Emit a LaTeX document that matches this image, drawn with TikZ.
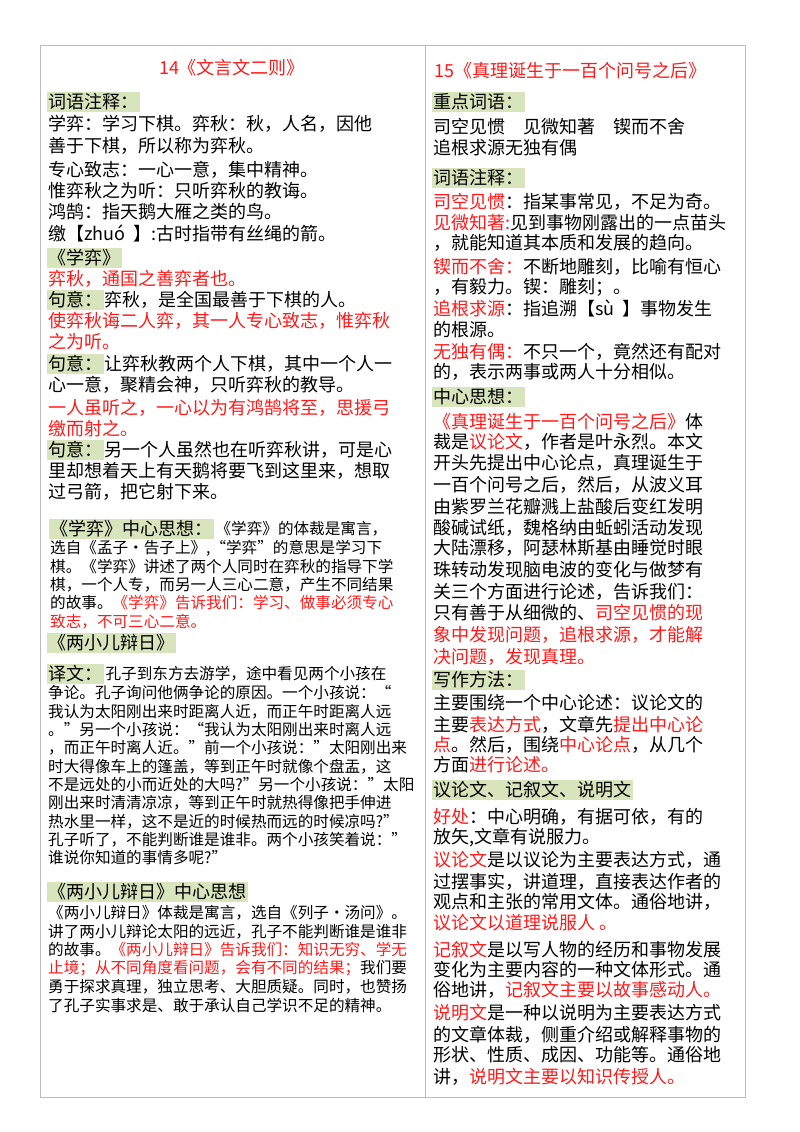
\documentclass[tikz,border=0pt]{standalone}
\usepackage{fontspec}
\setmainfont{Noto Sans CJK SC}
\usetikzlibrary{positioning}
\definecolor{kred}{HTML}{FF1A1A}
\definecolor{hlgreen}{HTML}{D7E4BC}
\definecolor{frame}{HTML}{BBBBBB}
\newcommand\rd[1]{\textcolor{kred}{#1}}
\tikzset{
  txt/.style={anchor=west,inner sep=0pt,font=\fontsize{18}{20}\selectfont},
  sm/.style={anchor=west,inner sep=0pt,font=\fontsize{15.6}{18}\selectfont},
  hl/.style={txt,fill=hlgreen,inner sep=1.5pt},
  ttl/.style={inner sep=0pt,text=kred,font=\fontsize{18}{20}\selectfont}
}
\begin{document}
\begin{tikzpicture}[x=1pt,y=-1pt]
  \useasboundingbox[fill=white] (0,0) rectangle (800,1132);
  \draw[frame] (40,45) rectangle (745,1097);
  \draw[frame] (425,45) -- (425,1097);
  % left column
  \node[ttl] (t14) at (232,68) {14《文言文二则》};
  \node[hl] (h1) at (47,102) {词语注释：};
  \node[txt] at (48,124) {学弈：学习下棋。弈秋：秋，人名，因他};
  \node[txt] at (48,146) {善于下棋，所以称为弈秋。};
  \node[txt] at (48,170) {专心致志：一心一意，集中精神。};
  \node[txt] at (48,191) {惟弈秋之为听：只听弈秋的教诲。};
  \node[txt] at (48,212) {鸿鹄：指天鹅大雁之类的鸟。};
  \node[txt] at (48,233) {缴【zhuó \ 】:古时指带有丝绳的箭。};
  \node[hl] (h2) at (47,258) {《学弈》};
  \node[txt] at (48,279) {\rd{弈秋，通国之善弈者也。}};
  \node[hl] (q1) at (47,300) {句意：};
  \node[txt,right=0pt of q1] {弈秋，是全国最善于下棋的人。};
  \node[txt] at (48,321) {\rd{使弈秋诲二人弈，其一人专心致志，惟弈秋}};
  \node[txt] at (48,342) {\rd{之为听。}};
  \node[hl] (q2) at (47,364) {句意：};
  \node[txt,right=0pt of q2] {让弈秋教两个人下棋，其中一个人一};
  \node[txt] at (48,385) {心一意，聚精会神，只听弈秋的教导。};
  \node[txt] at (48,408) {\rd{一人虽听之，一心以为有鸿鹄将至，思援弓}};
  \node[txt] at (48,429) {\rd{缴而射之。}};
  \node[hl] (q3) at (47,450) {句意：};
  \node[txt,right=0pt of q3] {另一个人虽然也在听弈秋讲，可是心};
  \node[txt] at (48,471) {里却想着天上有天鹅将要飞到这里来，想取};
  \node[txt] at (48,492) {过弓箭，把它射下来。};
  \node[hl] (h3) at (49,529) {《学弈》中心思想：};
  \node[sm,right=1pt of h3] {《学弈》的体裁是寓言，};
  \node[sm] at (50,548) {选自《孟子·告子上》,“学弈”的意思是学习下};
  \node[sm] at (50,567) {棋。《学弈》讲述了两个人同时在弈秋的指导下学};
  \node[sm] at (50,585) {棋，一个人专，而另一人三心二意，产生不同结果};
  \node[sm] at (50,603) {的故事。\rd{《学弈》告诉我们：学习、做事必须专心}};
  \node[sm] at (50,622) {\rd{致志，不可三心二意。}};
  \node[hl] (h4) at (47,643) {《两小儿辩日》};
  \node[hl] (q4) at (47,674) {译文：};
  \node[sm,right=1pt of q4] {孔子到东方去游学，途中看见两个小孩在};
  \node[sm] at (48,693) {争论。孔子询问他俩争论的原因。一个小孩说：“};
  \node[sm] at (48,712) {我认为太阳刚出来时距离人近，而正午时距离人远};
  \node[sm] at (48,730) {。”另一个小孩说：“我认为太阳刚出来时离人远};
  \node[sm] at (48,748) {，而正午时离人近。”前一个小孩说："太阳刚出来};
  \node[sm] at (48,767) {时大得像车上的篷盖，等到正午时就像个盘盂，这};
  \node[sm] at (48,785) {不是远处的小而近处的大吗?"另一个小孩说："太阳};
  \node[sm] at (48,803) {刚出来时清清凉凉，等到正午时就热得像把手伸进};
  \node[sm] at (48,822) {热水里一样，这不是近的时候热而远的时候凉吗?"};
  \node[sm] at (48,840) {孔子听了，不能判断谁是谁非。两个小孩笑着说："};
  \node[sm] at (48,858) {谁说你知道的事情多呢?"};
  \node[hl] (h5) at (47,892) {《两小儿辩日》中心思想};
  \node[sm] at (48,913) {《两小儿辩日》体裁是寓言，选自《列子·汤问》。};
  \node[sm] at (48,932) {讲了两小儿辩论太阳的远近，孔子不能判断谁是谁非};
  \node[sm] at (48,950) {的故事。\rd{《两小儿辩日》告诉我们：知识无穷、学无}};
  \node[sm] at (48,968) {\rd{止境；从不同角度看问题，会有不同的结果；}我们要};
  \node[sm] at (48,987) {勇于探求真理，独立思考、大胆质疑。同时，也赞扬};
  \node[sm] at (48,1006) {了孔子实事求是、敢于承认自己学识不足的精神。};
  % right column
  \node[ttl,anchor=west] (t15) at (434,71) {15《真理诞生于一百个问号之后》};
  \node[hl] (r1) at (432,102) {重点词语：};
  \node[txt] at (433,127) {司空见惯\quad 见微知著\quad 锲而不舍};
  \node[txt] at (433,148) {追根求源无独有偶};
  \node[hl] (r2) at (432,178) {词语注释：};
  \node[txt] at (433,202) {\rd{司空见惯}：指某事常见，不足为奇。};
  \node[txt] at (433,223) {\rd{见微知著:}见到事物刚露出的一点苗头};
  \node[txt] at (433,243) {，就能知道其本质和发展的趋向。};
  \node[txt] at (433,267) {\rd{锲而不舍：}不断地雕刻，比喻有恒心};
  \node[txt] at (433,287) {，有毅力。锲：雕刻；。};
  \node[txt] at (433,308) {\rd{追根求源}：指追溯【sù \ 】事物发生};
  \node[txt] at (433,330) {的根源。};
  \node[txt] at (433,352) {\rd{无独有偶：}不只一个，竟然还有配对};
  \node[txt] at (433,372) {的，表示两事或两人十分相似。};
  \node[hl] (r3) at (432,397) {中心思想：};
  \node[txt] at (433,422) {\rd{《真理诞生于一百个问号之后》}体};
  \node[txt] at (433,442) {裁是\rd{议论文}，作者是叶永烈。本文};
  \node[txt] at (433,463) {开头先提出中心论点，真理诞生于};
  \node[txt] at (433,485) {一百个问号之后，然后，从波义耳};
  \node[txt] at (433,507) {由紫罗兰花瓣溅上盐酸后变红发明};
  \node[txt] at (433,528) {酸碱试纸，魏格纳由蚯蚓活动发现};
  \node[txt] at (433,548) {大陆漂移，阿瑟林斯基由睡觉时眼};
  \node[txt] at (433,570) {珠转动发现脑电波的变化与做梦有};
  \node[txt] at (433,592) {关三个方面进行论述，告诉我们：};
  \node[txt] at (433,613) {只有善于从细微的、\rd{司空见惯的现}};
  \node[txt] at (433,635) {\rd{象中发现问题，追根求源，才能解}};
  \node[txt] at (433,657) {\rd{决问题，发现真理。}};
  \node[hl] (r4) at (432,680) {写作方法：};
  \node[txt] at (433,703) {主要围绕一个中心论述：议论文的};
  \node[txt] at (433,725) {主要\rd{表达方式}，文章先\rd{提出中心论}};
  \node[txt] at (433,745) {\rd{点}。然后，围绕\rd{中心论点}，从几个};
  \node[txt] at (433,765) {方面\rd{进行论述。}};
  \node[hl] (r5) at (432,790) {议论文、记叙文、说明文};
  \node[txt] at (433,817) {\rd{好处}：中心明确，有据可依，有的};
  \node[txt] at (433,838) {放矢,文章有说服力。};
  \node[txt] at (433,860) {\rd{议论文}是以议论为主要表达方式，通};
  \node[txt] at (433,882) {过摆事实，讲道理，直接表达作者的};
  \node[txt] at (433,902) {观点和主张的常用文体。通俗地讲，};
  \node[txt] at (433,923) {\rd{议论文以道理说服人 。}};
  \node[txt] at (433,950) {\rd{记叙文}是以写人物的经历和事物发展};
  \node[txt] at (433,970) {变化为主要内容的一种文体形式。通};
  \node[txt] at (433,990) {俗地讲，\rd{记叙文主要以故事感动人。}};
  \node[txt] at (433,1013) {\rd{说明文}是一种以说明为主要表达方式};
  \node[txt] at (433,1035) {的文章体裁，侧重介绍或解释事物的};
  \node[txt] at (433,1055) {形状、性质、成因、功能等。通俗地};
  \node[txt] at (433,1077) {讲，\rd{说明文主要以知识传授人。}};
\end{tikzpicture}
\end{document}
